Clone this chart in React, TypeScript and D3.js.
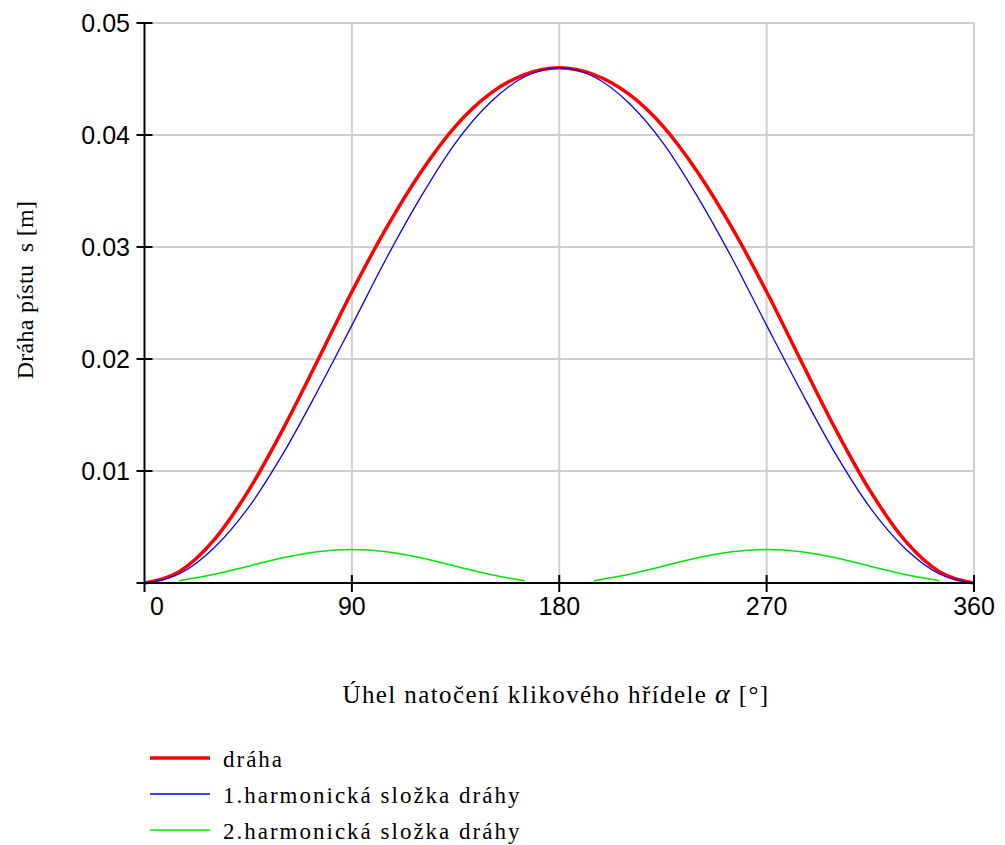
import React from "react";
import * as d3 from "d3";

// angle samples, 15° step
const angles = [0, 15, 30, 45, 60, 75, 90, 105, 120, 135, 150, 165, 180, 195, 210, 225, 240, 255, 270, 285, 300, 315, 330, 345, 360];

// dráha (total displacement)
const draha = [0, 0.001, 0.0038, 0.0082, 0.0137, 0.0198, 0.026, 0.0317, 0.0367, 0.0408, 0.0437, 0.0454, 0.046, 0.0454, 0.0437, 0.0408, 0.0367, 0.0317, 0.026, 0.0198, 0.0137, 0.0082, 0.0038, 0.001, 0];
// 1st harmonic
const harm1 = [0, 0.0008, 0.0031, 0.0067, 0.0115, 0.0171, 0.023, 0.029, 0.0345, 0.0393, 0.0429, 0.0452, 0.046, 0.0452, 0.0429, 0.0393, 0.0345, 0.029, 0.023, 0.0171, 0.0115, 0.0067, 0.0031, 0.0008, 0];
// 2nd harmonic (null = not drawn)
const harm2 = [null, 0.0002, 0.00075, 0.0015, 0.00225, 0.0028, 0.003, 0.0028, 0.00225, 0.0015, 0.00075, 0.0002, null, 0.0002, 0.00075, 0.0015, 0.00225, 0.0028, 0.003, 0.0028, 0.00225, 0.0015, 0.00075, 0.0002, null];

const xTicks = [0, 90, 180, 270, 360];
const yTicks = [0.01, 0.02, 0.03, 0.04, 0.05];
const legendLabels = ["dráha", "1.harmonická složka dráhy", "2.harmonická složka dráhy"];

const W = 1005;
const H = 845;

export default function App() {
  const x = d3.scaleLinear().domain([0, 360]).range([144.5, 974]);
  const y = d3.scaleLinear().domain([0, 0.05]).range([583, 23]);

  const mkLine = (vals: (number | null)[]) =>
    d3
      .line<number>()
      .defined((_, i) => vals[i] !== null)
      .x((a) => x(a))
      .y((_, i) => y(vals[i] as number))
      .curve(d3.curveMonotoneX)(angles) || "";

  const series = [
    { vals: draha, color: "#ff0000", w: 3.5 },
    { vals: harm1, color: "#0000ff", w: 1.3 },
    { vals: harm2, color: "#00e600", w: 1.5 },
  ];

  const numFont = "'Liberation Sans', Arial, sans-serif";
  const serif = "'Liberation Serif', 'Times New Roman', serif";

  return (
    <svg width={W} height={H} style={{ position: "absolute", left: 0, top: 0, background: "#fff" }}>
      {/* grid */}
      {xTicks.filter((t) => t > 0).map((t) => (
        <line key={"gx" + t} x1={x(t)} x2={x(t)} y1={y(0.05)} y2={y(0)} stroke="#cfcfcf" strokeWidth={2} />
      ))}
      {yTicks.map((t) => (
        <line key={"gy" + t} x1={x(0)} x2={x(360)} y1={y(t)} y2={y(t)} stroke="#cfcfcf" strokeWidth={2} />
      ))}

      {/* curves */}
      {series.map((s, i) => (
        <path key={i} d={mkLine(s.vals)} fill="none" stroke={s.color} strokeWidth={s.w} strokeLinejoin="round" />
      ))}

      {/* axes */}
      <line x1={x(0)} x2={x(0)} y1={y(0.05)} y2={y(0) + 9} stroke="#000" strokeWidth={2} />
      <line x1={x(0) - 8} x2={x(360)} y1={y(0)} y2={y(0)} stroke="#000" strokeWidth={2} />
      {yTicks.map((t) => (
        <line key={"ty" + t} x1={x(0) - 8} x2={x(0) + 8} y1={y(t)} y2={y(t)} stroke="#000" strokeWidth={2} />
      ))}
      {xTicks.filter((t) => t > 0).map((t) => (
        <line key={"tx" + t} x1={x(t)} x2={x(t)} y1={y(0) - 8} y2={y(0) + 9} stroke="#000" strokeWidth={2} />
      ))}

      {/* tick labels */}
      {yTicks.map((t) => (
        <text key={"ly" + t} x={130} y={y(t)} dy="0.36em" textAnchor="end" fontFamily={numFont} fontSize={25} fill="#000">
          {d3.format(".2f")(t)}
        </text>
      ))}
      {xTicks.map((t) => (
        <text key={"lx" + t} x={t === 0 ? x(t) + 12.5 : x(t)} y={615} textAnchor="middle" fontFamily={numFont} fontSize={25} fill="#000">
          {t}
        </text>
      ))}

      {/* axis titles */}
      <text x={556} y={703} textAnchor="middle" fontFamily={serif} fontSize={25} letterSpacing={1.4} fill="#000">
        Úhel natočení klikového hřídele{" "}
        <tspan fontStyle="italic" fontSize={28}>α</tspan> [°]
      </text>
      <text transform="translate(33,290) rotate(-90)" textAnchor="middle" fontFamily={serif} fontSize={24} letterSpacing={0.3} fill="#000">
        {"Dráha pístu\u00a0\u00a0s [m]"}
      </text>

      {/* legend */}
      {series.map((s, i) => {
        const ly = 758 + i * 36;
        return (
          <g key={"lg" + i}>
            <line x1={150} x2={210} y1={ly} y2={ly} stroke={s.color} strokeWidth={s.w} />
            <text x={223} y={ly + 9} fontFamily={serif} fontSize={23} letterSpacing={2} fill="#000">
              {legendLabels[i]}
            </text>
          </g>
        );
      })}
    </svg>
  );
}
